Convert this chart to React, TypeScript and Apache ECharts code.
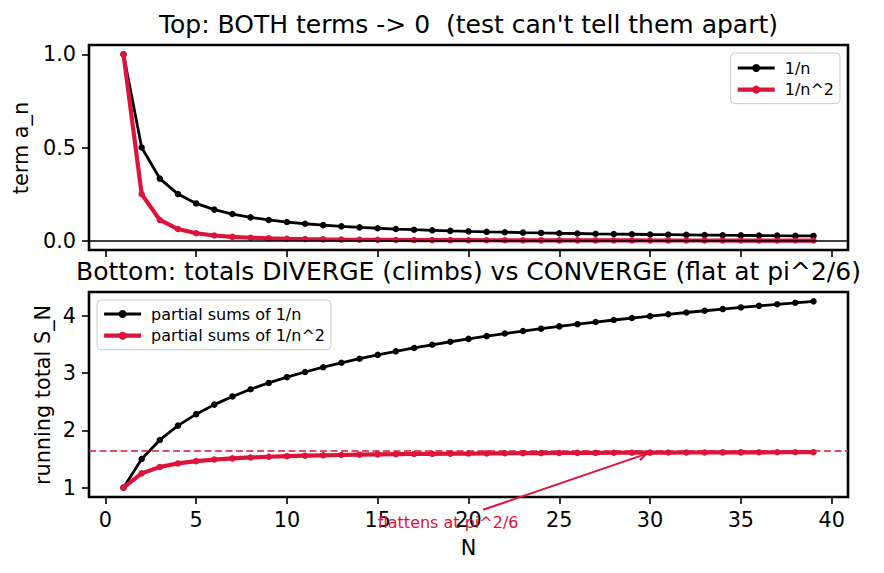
import React, { useEffect, useRef } from "react";
import * as echarts from "echarts";

// ---- data ----
const N = [
  1, 2, 3, 4, 5, 6, 7, 8, 9, 10, 11, 12, 13, 14, 15, 16, 17, 18, 19, 20,
  21, 22, 23, 24, 25, 26, 27, 28, 29, 30, 31, 32, 33, 34, 35, 36, 37, 38, 39,
];
const TERM_HARM = [
  1, 0.5, 0.3333, 0.25, 0.2, 0.1667, 0.1429, 0.125, 0.1111, 0.1, 0.0909,
  0.0833, 0.0769, 0.0714, 0.0667, 0.0625, 0.0588, 0.0556, 0.0526, 0.05,
  0.0476, 0.0455, 0.0435, 0.0417, 0.04, 0.0385, 0.037, 0.0357, 0.0345,
  0.0333, 0.0323, 0.0313, 0.0303, 0.0294, 0.0286, 0.0278, 0.027, 0.0263,
  0.0256,
];
const TERM_SQ = [
  1, 0.25, 0.1111, 0.0625, 0.04, 0.0278, 0.0204, 0.0156, 0.0123, 0.01,
  0.0083, 0.0069, 0.0059, 0.0051, 0.0044, 0.0039, 0.0035, 0.0031, 0.0028,
  0.0025, 0.0023, 0.0021, 0.0019, 0.0017, 0.0016, 0.0015, 0.0014, 0.0013,
  0.0012, 0.0011, 0.001, 0.001, 0.0009, 0.0009, 0.0008, 0.0008, 0.0007,
  0.0007, 0.0007,
];
const SUM_HARM = [
  1, 1.5, 1.8333, 2.0833, 2.2833, 2.45, 2.5929, 2.7179, 2.829, 2.929,
  3.0199, 3.1032, 3.1801, 3.2516, 3.3182, 3.3807, 3.4396, 3.4951, 3.5477,
  3.5977, 3.6454, 3.6908, 3.7343, 3.776, 3.816, 3.8544, 3.8915, 3.9272,
  3.9617, 3.995, 4.0272, 4.0585, 4.0888, 4.1182, 4.1468, 4.1746, 4.2016,
  4.2279, 4.2535,
];
const SUM_SQ = [
  1, 1.25, 1.3611, 1.4236, 1.4636, 1.4914, 1.5118, 1.5274, 1.5398, 1.5498,
  1.558, 1.565, 1.5709, 1.576, 1.5804, 1.5843, 1.5878, 1.5909, 1.5936,
  1.5962, 1.5984, 1.6005, 1.6024, 1.6041, 1.6057, 1.6072, 1.6086, 1.6098,
  1.611, 1.6122, 1.6132, 1.6142, 1.6151, 1.616, 1.6168, 1.6175, 1.6183,
  1.619, 1.6196,
];
const LIMIT = 1.6449; // pi^2/6
const X_TICKS = [0, 5, 10, 15, 20, 25, 30, 35, 40];
const TOP_Y_TICKS = [0, 0.5, 1.0];
const BOT_Y_TICKS = [1, 2, 3, 4];
const ANNOT_POINT = [30, SUM_SQ[29]];
const ANNOT_TEXT_POS = [15, 0.3];
const ANNOT_TEXT = "flattens at pi^2/6";
const TITLE_TOP = "Top: BOTH terms -> 0  (test can't tell them apart)";
const TITLE_BOT = "Bottom: totals DIVERGE (climbs) vs CONVERGE (flat at pi^2/6)";

const CRIMSON = "#dc143c";
const FONT = "DejaVu Sans";

const pairs = (ys: number[]) => N.map((n, i) => [n, ys[i]]);

export default function App() {
  const ref = useRef<HTMLDivElement>(null);

  useEffect(() => {
    document.body.style.margin = "0";
    const chart = echarts.init(ref.current!, null, { renderer: "svg" });

    const tick = {
      show: true,
      length: 7,
      inside: false,
      lineStyle: { color: "#000", width: 1.6 },
    };
    const labelStyle = { color: "#000", fontSize: 20.8, fontFamily: FONT };

    const xAxisBase = (idx: number, showLabels: boolean) => ({
      type: "value",
      gridIndex: idx,
      min: -0.9,
      max: 40.9,
      axisLine: { show: false, onZero: false },
      splitLine: { show: false },
      axisTick: { ...tick, customValues: X_TICKS },
      axisLabel: {
        show: showLabels,
        customValues: X_TICKS,
        margin: 12,
        ...labelStyle,
      },
    });

    const legendBase = {
      orient: "vertical",
      itemWidth: 37,
      itemHeight: 10,
      backgroundColor: "rgba(255,255,255,0.8)",
      borderColor: "#cccccc",
      borderWidth: 1,
      borderRadius: 4,
      lineStyle: { width: "inherit" },
      textStyle: { color: "#000", fontSize: 16, fontFamily: FONT, padding: [0, 0, 0, 5] },
    };

    const option: any = {
      animation: false,
      backgroundColor: "#fff",
      textStyle: { fontFamily: FONT },
      grid: [
        {
          left: 89, right: 36, top: 45, height: 205,
          show: true, borderColor: "#000", borderWidth: 2.6,
          backgroundColor: "transparent",
        },
        {
          left: 89, right: 36, top: 292, height: 205,
          show: true, borderColor: "#000", borderWidth: 2.6,
          backgroundColor: "transparent",
        },
      ],
      xAxis: [xAxisBase(0, false), xAxisBase(1, true)],
      yAxis: [
        {
          type: "value", gridIndex: 0, min: -0.05, max: 1.05,
          axisLine: { show: false, onZero: false }, splitLine: { show: false },
          axisTick: { ...tick, customValues: TOP_Y_TICKS },
          axisLabel: {
            customValues: TOP_Y_TICKS, margin: 13,
            formatter: (v: number) => v.toFixed(1), ...labelStyle,
          },
        },
        {
          type: "value", gridIndex: 1, min: 0.8373, max: 4.4162,
          axisLine: { show: false, onZero: false }, splitLine: { show: false },
          axisTick: { ...tick, customValues: BOT_Y_TICKS },
          axisLabel: {
            customValues: BOT_Y_TICKS, margin: 13,
            formatter: (v: number) => String(Math.round(v)), ...labelStyle,
          },
        },
      ],
      legend: [
        {
          ...legendBase,
          data: ["1/n", "1/n^2"],
          right: 44, top: 53,
          itemGap: 5.6,
          padding: [7, 6, 6, 5],
        },
        {
          ...legendBase,
          data: ["partial sums of 1/n", "partial sums of 1/n^2"],
          left: 97, top: 300,
          itemGap: 5.7,
          padding: [6, 6, 6, 5],
        },
      ],
      series: [
        {
          name: "1/n", type: "line", xAxisIndex: 0, yAxisIndex: 0,
          data: pairs(TERM_HARM), symbol: "circle", symbolSize: 6.5,
          lineStyle: { color: "#000", width: 2.8 }, itemStyle: { color: "#000" },
          z: 3,
          markLine: {
            silent: true, symbol: ["none", "none"], label: { show: false },
            lineStyle: { color: "#000", width: 1.6, type: "solid" },
            data: [{ yAxis: 0 }],
          },
        },
        {
          name: "1/n^2", type: "line", xAxisIndex: 0, yAxisIndex: 0,
          data: pairs(TERM_SQ), symbol: "circle", symbolSize: 6.5,
          lineStyle: { color: CRIMSON, width: 4.2 }, itemStyle: { color: CRIMSON },
          z: 4,
        },
        {
          name: "partial sums of 1/n", type: "line", xAxisIndex: 1, yAxisIndex: 1,
          data: pairs(SUM_HARM), symbol: "circle", symbolSize: 6.5,
          lineStyle: { color: "#000", width: 2.8 }, itemStyle: { color: "#000" },
          z: 3,
        },
        {
          name: "partial sums of 1/n^2", type: "line", xAxisIndex: 1, yAxisIndex: 1,
          data: pairs(SUM_SQ), symbol: "circle", symbolSize: 6.5,
          lineStyle: { color: CRIMSON, width: 4.2 }, itemStyle: { color: CRIMSON },
          z: 4,
          markLine: {
            silent: true, symbol: ["none", "none"], label: { show: false },
            lineStyle: { color: CRIMSON, width: 1.6, type: [7, 3.5] },
            data: [{ yAxis: LIMIT }],
          },
        },
      ],
    };

    chart.setOption(option);

    // annotation placed through the axes' own scales
    const finder = { xAxisIndex: 1, yAxisIndex: 1 };
    const end = chart.convertToPixel(finder, ANNOT_POINT) as number[];
    const anchor = chart.convertToPixel(finder, ANNOT_TEXT_POS) as number[];
    const ctx = document.createElement("canvas").getContext("2d")!;
    ctx.font = `16px "${FONT}"`;
    const tw = ctx.measureText(ANNOT_TEXT).width;
    const cx = anchor[0] + tw / 2;
    const cy = anchor[1] - 6;
    const dx = end[0] - cx;
    const dy = end[1] - cy;
    const len = Math.hypot(dx, dy);
    const ux = dx / len;
    const uy = dy / len;
    const t = Math.min((tw / 2 + 4) / Math.abs(dx), 12 / Math.abs(dy));
    const sx = cx + dx * t;
    const sy = cy + dy * t;
    const ex = end[0] - ux * 4;
    const ey = end[1] - uy * 4;
    const hl = 8, hw = 4;
    const bx = ex - ux * hl, by = ey - uy * hl;
    const px = -uy, py = ux;

    const cplot = 89 + (884 - 36 - 89) / 2;

    chart.setOption({
      graphic: [
        {
          type: "text", x: cplot, y: 24.5,
          style: { text: TITLE_TOP, fill: "#000", fontSize: 25, fontFamily: FONT, align: "center", verticalAlign: "middle" },
        },
        {
          type: "text", x: cplot, y: 271,
          style: { text: TITLE_BOT, fill: "#000", fontSize: 25, fontFamily: FONT, align: "center", verticalAlign: "middle" },
        },
        {
          type: "text", x: 21, y: 148, rotation: Math.PI / 2,
          style: { text: "term a_n", fill: "#000", fontSize: 20.8, fontFamily: FONT, align: "center", verticalAlign: "middle" },
        },
        {
          type: "text", x: 43, y: 395, rotation: Math.PI / 2,
          style: { text: "running total S_N", fill: "#000", fontSize: 20.8, fontFamily: FONT, align: "center", verticalAlign: "middle" },
        },
        {
          type: "text", x: cplot, y: 548,
          style: { text: "N", fill: "#000", fontSize: 20.8, fontFamily: FONT, align: "center", verticalAlign: "middle" },
        },
        {
          type: "text", x: anchor[0], y: anchor[1] - 5.5, z: 100,
          style: { text: ANNOT_TEXT, fill: CRIMSON, fontSize: 16, fontFamily: FONT, align: "left", verticalAlign: "middle" },
        },
        {
          type: "line", z: 100,
          shape: { x1: sx, y1: sy, x2: ex, y2: ey },
          style: { stroke: CRIMSON, lineWidth: 2 },
        },
        {
          type: "polyline", z: 100,
          shape: { points: [[bx + px * hw, by + py * hw], [ex, ey], [bx - px * hw, by - py * hw]] },
          style: { stroke: CRIMSON, lineWidth: 2, fill: null },
        },
      ],
    });

    return () => chart.dispose();
  }, []);

  return <div ref={ref} style={{ width: 884, height: 573 }} />;
}
